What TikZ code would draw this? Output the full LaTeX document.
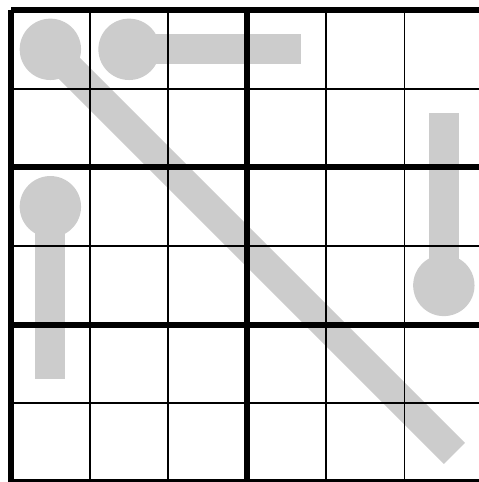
\documentclass[tikz,border=0pt]{standalone}
\usepackage{tikz}

\begin{document}
\begin{tikzpicture}[
  tube/.style={line width=0.38cm, black!20, line cap=rect},
  bulb/.style={fill=black!20},
  gridthin/.style={line width=0.7pt},
  gridbold/.style={line width=2.2pt}
]
\useasboundingbox (-0.14,0.127) rectangle (5.946,-5.998);
\clip (-0.14,0.127) rectangle (5.946,-5.998);

% thermometers
\coordinate (t1a) at (0.5,-0.5);
\coordinate (t1b) at (5.5,-5.5);
\coordinate (t2a) at (1.5,-0.5);
\coordinate (t2b) at (3.5,-0.5);
\coordinate (t3a) at (0.5,-2.5);
\coordinate (t3b) at (0.5,-4.5);
\coordinate (t4a) at (5.5,-3.5);
\coordinate (t4b) at (5.5,-1.5);

\foreach \t in {t1,t2,t3,t4}{
  \draw[tube] (\t a) -- (\t b);
  \fill[bulb] (\t a) circle (0.39);
}

% grid
\foreach \i in {0,...,6}{
  \draw[gridthin] (\i,0) -- (\i,-6);
  \draw[gridthin] (0,-\i) -- (6,-\i);
}
\foreach \x in {0,3,6}
  \draw[gridbold] (\x,0) -- (\x,-6);
\foreach \y in {0,2,4,6}
  \draw[gridbold] (0,-\y) -- (6,-\y);
\end{tikzpicture}
\end{document}
